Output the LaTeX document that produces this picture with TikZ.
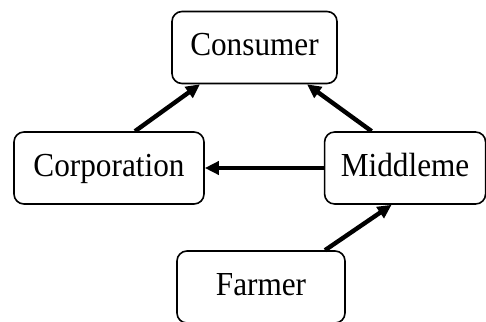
\documentclass[tikz,border=0pt]{standalone}
\usepackage{fontspec}
\setmainfont{Liberation Serif}[FakeStretch=0.93]
\usepackage{tikz}
\usetikzlibrary{arrows.meta,positioning}

\begin{document}
\begin{tikzpicture}[every node/.style={draw, rounded corners=5pt, line width=0.8pt, align=center, font=\fontsize{16.8}{19}\selectfont, minimum height=36pt, inner sep=2pt, text height=11.8pt, text depth=3.4pt}, flow/.style={line width=2.2pt, -{Triangle[length=7pt,width=6.5pt]}}]
\useasboundingbox (0,0) rectangle (243pt,-160.5pt);
\node[minimum width=82.5pt] (cons) at (127.25pt,-23.75pt) {Consumer};
\node[minimum width=95pt] (corp) at (54.5pt,-84pt) {Corporation};
\node[minimum width=80.5pt] (mid) [right=59.5pt of corp] {Middleme};
\node[minimum width=84pt] (farm) at (130.5pt,-143.5pt) {Farmer};
\draw[flow] ([xshift=13pt]corp.north) -- ([xshift=-27.25pt]cons.south); \draw[flow] ([xshift=-16.75pt]mid.north) -- ([xshift=26.25pt]cons.south);
\draw[flow] (mid) -- (corp); \draw[flow] ([xshift=32pt]farm.north) -- ([xshift=-6.75pt]mid.south);
\end{tikzpicture}
\end{document}
